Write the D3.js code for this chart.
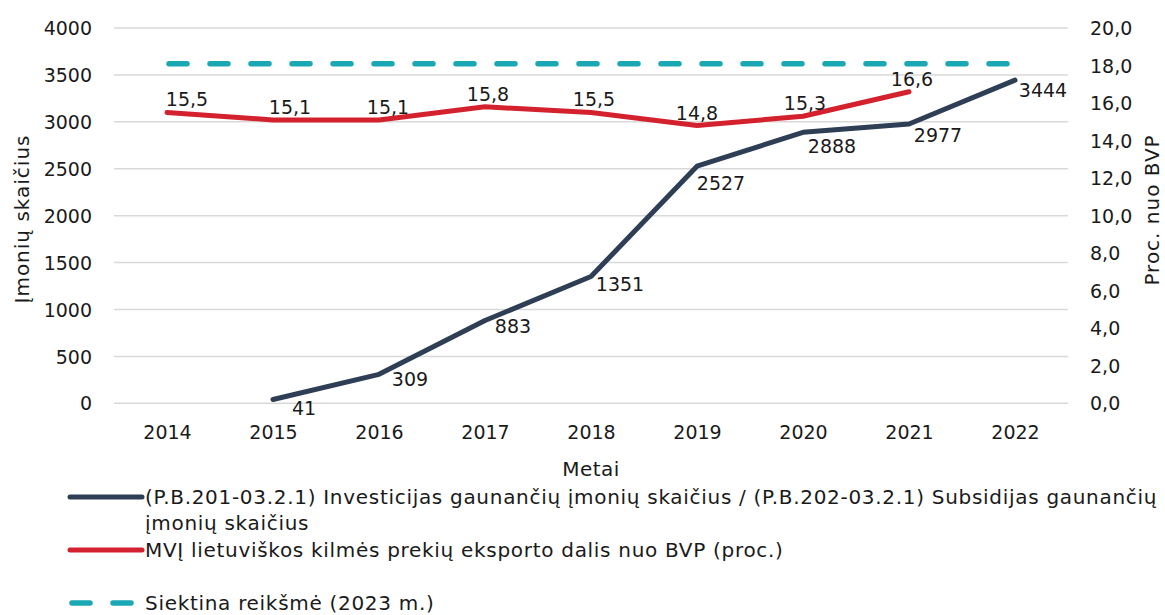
<!DOCTYPE html>
<html>
<head>
<meta charset="utf-8">
<script src="https://cdn.jsdelivr.net/npm/d3@7"></script>
<style>
  body { margin: 0; background: #fff; }
  text { font-family: "DejaVu Sans", sans-serif; fill: #1a1a1a; }
</style>
</head>
<body>
<div id="chart"></div>
<script>
// duomenys
var years = [2014, 2015, 2016, 2017, 2018, 2019, 2020, 2021, 2022];
var companies = [null, 41, 309, 883, 1351, 2527, 2888, 2977, 3444];
var exportShare = [15.5, 15.1, 15.1, 15.8, 15.5, 14.8, 15.3, 16.6, null];
var target = 18.1;
var leftTicks = [0, 500, 1000, 1500, 2000, 2500, 3000, 3500, 4000];
var rightTicks = [0, 2, 4, 6, 8, 10, 12, 14, 16, 18, 20];

// etikečių poslinkiai (kaip originale)
var redDx = [20, 17, 9, 3, 3, 0, 2, 3];
var blueDx = [0, 31, 31, 28, 29, 24, 29, 29, 28];
var blueDy = [0, 16, 12, 13, 14, 24, 21, 18, 17];

var width = 1165, height = 615,
    margin = { top: 28, left: 114, right: 97, bottom: 212 },
    svg = d3.select('#chart').append('svg')
        .attr('width', width)
        .attr('height', height);

var plotW = width - margin.left - margin.right,
    plotH = 375.3;

var x = d3.scalePoint()
    .domain(years)
    .range([margin.left, margin.left + plotW])
    .padding(0.5);

var yL = d3.scaleLinear().domain([0, 4000]).range([margin.top + plotH, margin.top]);
var yR = d3.scaleLinear().domain([0, 20]).range([margin.top + plotH, margin.top]);

var fmt = function (v) { return d3.format('.1f')(v).replace('.', ','); };

// tinklelis
svg.append('g')
    .selectAll('line')
    .data(leftTicks)
    .enter().append('line')
    .attr('x1', margin.left)
    .attr('x2', margin.left + plotW)
    .attr('y1', function (d) { return yL(d); })
    .attr('y2', function (d) { return yL(d); })
    .attr('stroke', '#d9d9d9')
    .attr('stroke-width', 1.5);

// kairė ašis
var axL = svg.append('g')
    .attr('transform', 'translate(' + (margin.left - 22) + ',0)')
    .call(d3.axisLeft(yL).tickValues(leftTicks).tickSize(0).tickPadding(0).tickFormat(d3.format('d')));
axL.select('.domain').remove();
axL.selectAll('text').style('font-size', '19px').attr('dy', '0.35em');

// dešinė ašis
var axR = svg.append('g')
    .attr('transform', 'translate(' + (margin.left + plotW + 22) + ',0)')
    .call(d3.axisRight(yR).tickValues(rightTicks).tickSize(0).tickPadding(0).tickFormat(fmt));
axR.select('.domain').remove();
axR.selectAll('text').style('font-size', '19px').attr('dy', '0.35em');

// x ašis
var axX = svg.append('g')
    .attr('transform', 'translate(0,' + (margin.top + plotH + 22) + ')')
    .call(d3.axisBottom(x).tickSize(0).tickPadding(0).tickFormat(d3.format('d')));
axX.select('.domain').remove();
axX.selectAll('text').style('font-size', '19px').attr('dy', '0.71em');

// ašių pavadinimai
svg.append('text')
    .attr('transform', 'translate(29,219) rotate(-90)')
    .attr('text-anchor', 'middle')
    .style('font-size', '20px')
    .style('letter-spacing', '1px')
    .text('Įmonių skaičius');

svg.append('text')
    .attr('transform', 'translate(1159,210) rotate(-90)')
    .attr('text-anchor', 'middle')
    .style('font-size', '20px')
    .style('letter-spacing', '1px')
    .text('Proc. nuo BVP');

svg.append('text')
    .attr('x', margin.left + plotW / 2)
    .attr('y', 476)
    .attr('text-anchor', 'middle')
    .style('font-size', '20px')
    .style('letter-spacing', '0.5px')
    .text('Metai');

// siektina reikšmė
svg.append('line')
    .attr('x1', x(years[0]) + 2)
    .attr('x2', x(years[years.length - 1]))
    .attr('y1', yR(target))
    .attr('y2', yR(target))
    .attr('stroke', '#1aa8b4')
    .attr('stroke-width', 5.5)
    .attr('stroke-linecap', 'round')
    .attr('stroke-dasharray', '18,23');

// linijos
var lineL = d3.line()
    .defined(function (d) { return d.v != null; })
    .x(function (d) { return x(d.year); })
    .y(function (d) { return yL(d.v); });
var lineR = d3.line()
    .defined(function (d) { return d.v != null; })
    .x(function (d) { return x(d.year); })
    .y(function (d) { return yR(d.v); });

var blueData = years.map(function (y, i) { return { year: y, v: companies[i], i: i }; });
var redData = years.map(function (y, i) { return { year: y, v: exportShare[i], i: i }; });

svg.append('path')
    .datum(redData)
    .attr('d', lineR)
    .attr('fill', 'none')
    .attr('stroke', '#d3222e')
    .attr('stroke-width', 5)
    .attr('stroke-linecap', 'round')
    .attr('stroke-linejoin', 'round');

svg.append('path')
    .datum(blueData)
    .attr('d', lineL)
    .attr('fill', 'none')
    .attr('stroke', '#2d3e55')
    .attr('stroke-width', 5)
    .attr('stroke-linecap', 'round')
    .attr('stroke-linejoin', 'round');

// reikšmių etiketės
svg.append('g')
    .selectAll('text')
    .data(redData.filter(function (d) { return d.v != null; }))
    .enter().append('text')
    .attr('x', function (d) { return x(d.year) + redDx[d.i]; })
    .attr('y', function (d) { return yR(d.v) - 6; })
    .attr('text-anchor', 'middle')
    .style('font-size', '19px')
    .text(function (d) { return fmt(d.v); });

svg.append('g')
    .selectAll('text')
    .data(blueData.filter(function (d) { return d.v != null; }))
    .enter().append('text')
    .attr('x', function (d) { return x(d.year) + blueDx[d.i]; })
    .attr('y', function (d) { return yL(d.v) + blueDy[d.i]; })
    .attr('text-anchor', 'middle')
    .style('font-size', '19px')
    .text(function (d) { return d.v; });

// legenda
var lg = svg.append('g').style('font-size', '20px').style('letter-spacing', '0.7px');
lg.append('line').attr('x1', 70).attr('x2', 142).attr('y1', 497).attr('y2', 497)
    .attr('stroke', '#2d3e55').attr('stroke-width', 5).attr('stroke-linecap', 'round');
lg.append('text').attr('x', 145).attr('y', 497).attr('dy', '0.35em')
    .text('(P.B.201-03.2.1) Investicijas gaunančių įmonių skaičius / (P.B.202-03.2.1) Subsidijas gaunančių');
lg.append('text').attr('x', 145).attr('y', 523).attr('dy', '0.35em')
    .text('įmonių skaičius');
lg.append('line').attr('x1', 70).attr('x2', 142).attr('y1', 550).attr('y2', 550)
    .attr('stroke', '#d3222e').attr('stroke-width', 5).attr('stroke-linecap', 'round');
lg.append('text').attr('x', 145).attr('y', 550).attr('dy', '0.35em')
    .text('MVĮ lietuviškos kilmės prekių eksporto dalis nuo BVP (proc.)');
lg.append('line').attr('x1', 72).attr('x2', 136).attr('y1', 603).attr('y2', 603)
    .attr('stroke', '#1aa8b4').attr('stroke-width', 5.5).attr('stroke-linecap', 'round')
    .attr('stroke-dasharray', '18,23');
lg.append('text').attr('x', 145).attr('y', 603).attr('dy', '0.35em')
    .text('Siektina reikšmė (2023 m.)');
</script>
</body>
</html>
